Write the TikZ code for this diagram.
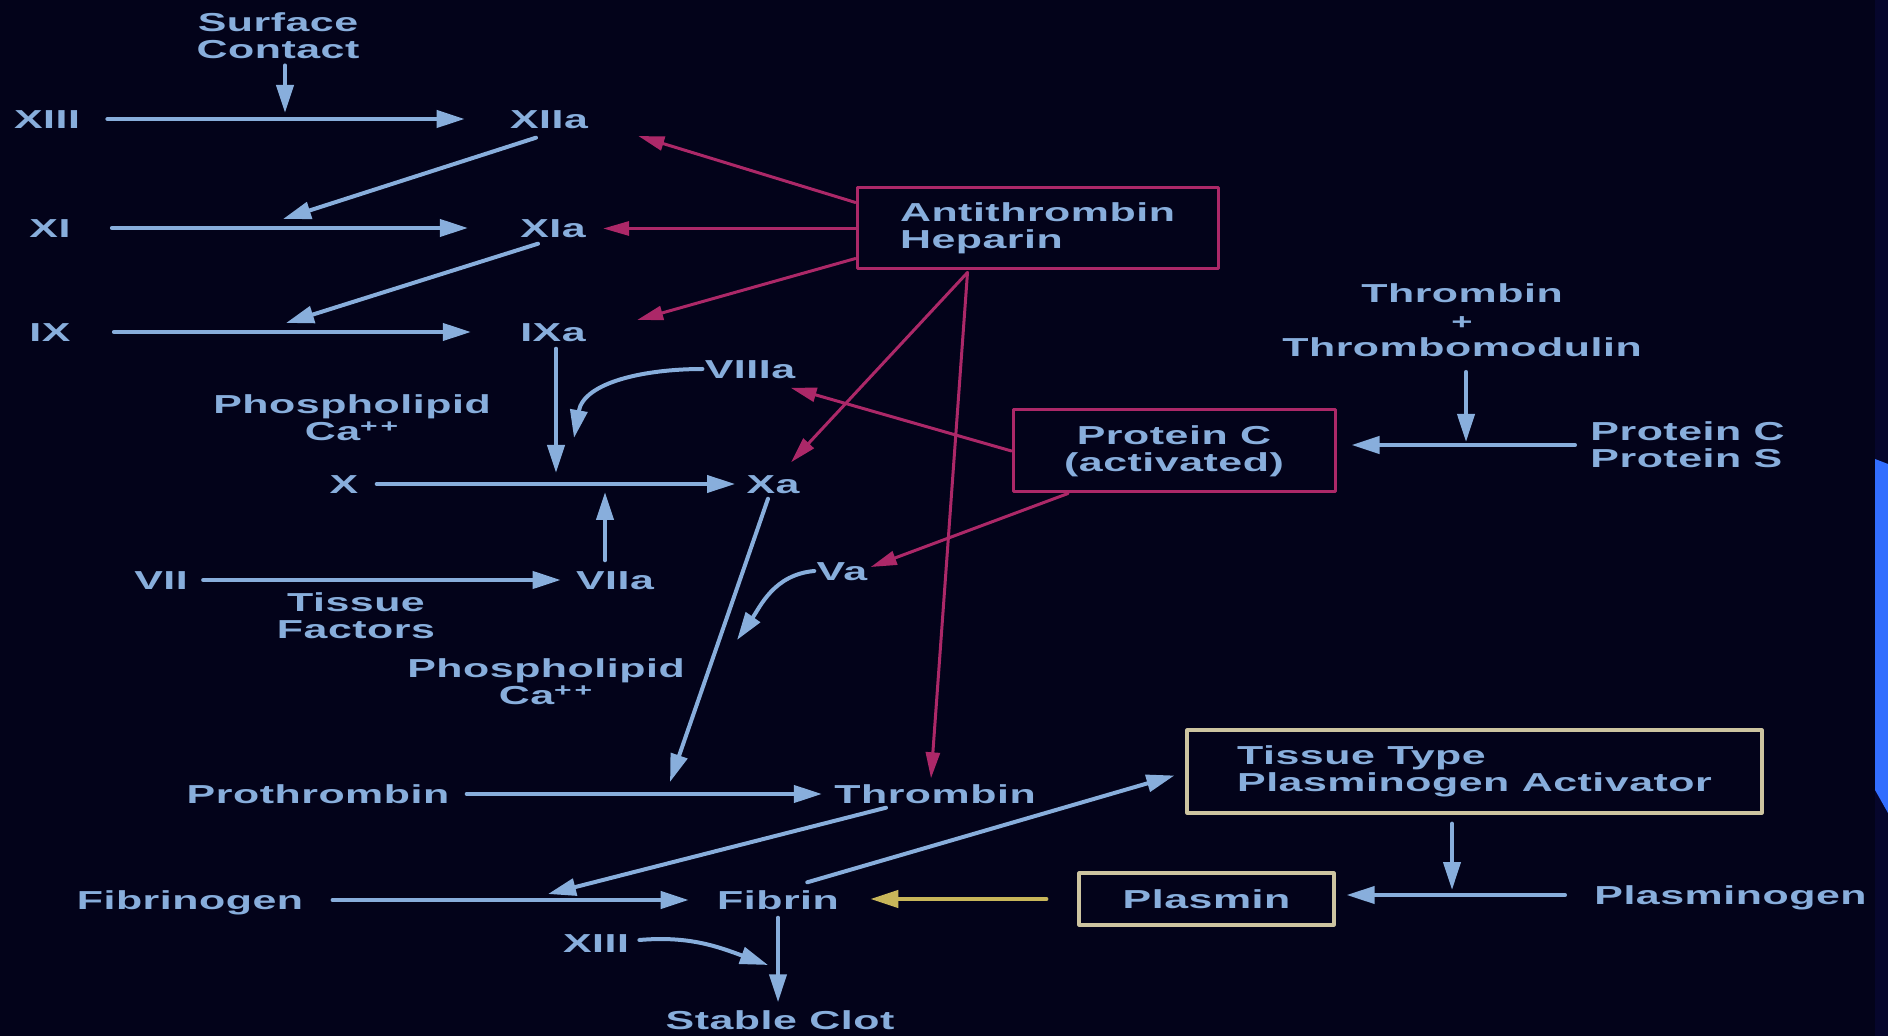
\documentclass[tikz,border=0pt]{standalone}
\usepackage{fontspec}
\newfontfamily\slidefont{Liberation Sans}[FakeStretch=1.65,LetterSpace=2]
\usetikzlibrary{arrows.meta}
\definecolor{bgc}{RGB}{3,3,26}
\definecolor{edgec}{RGB}{6,6,44}
\definecolor{txtc}{RGB}{136,174,220}
\definecolor{magc}{RGB}{172,40,104}
\definecolor{tanc}{RGB}{205,196,160}
\definecolor{ylwc}{RGB}{200,182,90}
\definecolor{stripc}{RGB}{50,110,255}
\begin{document}
\begin{tikzpicture}[x=0.5pt, y=-0.5pt, line join=round, line cap=round, >={Triangle[length=14pt,width=8.5pt]}]
	\tikzset{every node/.style={font=\slidefont\bfseries\fontsize{13}{13.5}\selectfont, text=txtc, inner sep=1pt},
		fac/.style={text height=9.3pt, text depth=0pt},
		two/.style={align=center},
		boxm/.style={draw=magc, line width=1.5pt, align=left},
		boxt/.style={draw=tanc, line width=1.6pt, align=left},
		arr/.style={->, draw=txtc, line width=2pt},
		inh/.style={-{Triangle[length=13pt,width=7pt]}, draw=magc, line width=1.5pt},
		ylw/.style={-{Triangle[length=14pt,width=8.5pt]}, draw=ylwc, line width=2pt}}
	\useasboundingbox (0,0) rectangle (1888,1036);
	\fill[bgc] (0,0) rectangle (1888,1036);
	\fill[edgec] (1875,0) rectangle (1888,1036);
	\fill[stripc] (1875,459) -- (1888,464) -- (1888,813) -- (1875,790) -- cycle;

	\node[two] (surf) at (278,36) {Surface\\Contact};
	\node[fac] (f12) at (47,119) {XIII};
	\node[fac] (f12a) at (549,119) {XIIa};
	\node[fac] (f11) at (50,228) {XI};
	\node[fac] (f11a) at (553,228) {XIa};
	\node[fac] (f9) at (50,332) {IX};
	\node[fac] (f9a) at (553,332) {IXa};
	\node[fac] (f8a) at (750,369) {VIIIa};
	\node[two] (pl1) at (352,418) {Phospholipid\\Ca\textsuperscript{+\,+}};
	\node[fac] (f10) at (344,484) {X};
	\node[fac] (f10a) at (773,484) {Xa};
	\node[fac] (f7) at (161,580) {VII};
	\node[fac] (f7a) at (615,580) {VIIa};
	\node[two] (tf) at (356,616) {Tissue\\Factors};
	\node[fac] (f5a) at (842,571) {Va};
	\node[two] (pl2) at (546,682) {Phospholipid\\Ca\textsuperscript{+\,+}};
	\node[fac] (prot) at (318,794) {Prothrombin};
	\node[fac] (thr) at (935,794) {Thrombin};
	\node[fac] (fibg) at (190,900) {Fibrinogen};
	\node[fac] (fib) at (778,900) {Fibrin};
	\node[fac] (f13b) at (596,943) {XIII};
	\node[fac] (clot) at (780,1020) {Stable Clot};
	\node[boxm, minimum width=180.5pt, minimum height=40.5pt] (at) at (1037.5,228.5) {Antithrombin\\Heparin};
	\node[boxm, align=center, minimum width=161pt, minimum height=41pt] (pc) at (1174,451) {Protein C\\(activated)};
	\node[two] (tm) at (1462,320) {Thrombin\\{\fontsize{11}{13.5}\selectfont +}\\Thrombomodulin};
	\node[anchor=west, align=left] (pcs) at (1588,445) {Protein C\\Protein S};
	\node[boxt, minimum width=287.5pt, minimum height=41.5pt] (tpa) at (1474.5,771.5) {Tissue Type\\Plasminogen Activator};
	\node[boxt, fac, minimum width=127.5pt, minimum height=26pt] (plas) at (1206.5,899) {Plasmin};
	\node[fac, anchor=west] (plg) at (1592,895) {Plasminogen};

	\coordinate (c1) at (285,113);
	\coordinate (d1) at (283,219);
	\coordinate (d2) at (286,323);
	\coordinate (d3) at (556,473);
	\coordinate (d4) at (574,438);
	\coordinate (d5) at (605,492);
	\coordinate (d6) at (737,640);
	\coordinate (d7) at (670,782);
	\coordinate (d8) at (548,894);
	\coordinate (d9) at (768,965);
	\coordinate (d10) at (1452,890);
	\coordinate (d11) at (1466,442);

	\foreach \a/\b/\s/\t in {f12/f12a/12.5/21.5, f11/f11a/19.5/25, f9/f9a/20.5/23.5, f10/f10a/8/4.5, f7/f7a/6.5/6.5, prot/thr/7.5/5, fibg/fib/13.5/13}
		\draw[arr, shorten <=\s pt, shorten >=\t pt] (\a) -- (\b);
	\draw[arr, shorten <=2pt] (surf.south -| c1) -- (c1);
	\draw[arr] ([shift={(-13,7)}]f12a.south) -- (d1);
	\draw[arr] ([shift={(-15,4)}]f11a.south) -- (d2);
	\draw[arr, shorten <=2.5pt] (f9a.south -| d3) -- (d3);
	\draw[arr] (f8a.west) to[out=180, in=80] (d4);
	\draw[arr, shorten <=4pt] (d5 |- f7a.north) -- (d5);
	\draw[arr] (f5a.west) to[out=185, in=55] (d6);
	\draw[arr] ([shift={(-5,3)}]f10a.south) -- (d7);
	\draw[arr] ([shift={(-49,2)}]thr.south) -- (d8);
	\draw[arr] ([shift={(-34,-6)}]fib.north east) -- ([shift={(-11,4)}]tpa.west);
	\draw[arr, shorten <=3pt, shorten >=3pt] (fib.south) -- (fib.south |- clot.north);
	\draw[arr] ([shift={(8,-3)}]f13b.east) to[out=5, in=160] (d9);
	\draw[arr, shorten <=4.5pt] (tpa.south -| d10) -- (d10);
	\draw[arr, shorten <=6.5pt] (tm.south -| d11) -- (d11);
	\draw[arr, shorten <=13.5pt, shorten >=5.5pt] (plg.west) -- (plg.west -| plas.east);
	\draw[arr, shorten <=6.5pt, shorten >=7.5pt] (pcs.west) -- (pcs.west -| pc.east);
	\draw[ylw, shorten <=15.5pt, shorten >=14.5pt] (plas.west) -- (plas.west -| fib.east);

	\draw[inh] ([shift={(0,-26)}]at.west) -- ([shift={(48,17)}]f12a.east);
	\draw[inh, shorten >=7.5pt] (at.west) -- (at.west -| f11a.east);
	\draw[inh] ([shift={(0,30)}]at.west) -- ([shift={(49,-12)}]f9a.east);
	\draw[inh] ([shift={(-70,2)}]at.south) -- ([shift={(18,-10)}]f10a.north);
	\draw[inh] ([shift={(-70,2)}]at.south) -- ([shift={(-4,-4)}]thr.north);
	\draw[inh] (pc.west) -- ([shift={(-7,7)}]f8a.south east);
	\draw[inh] ([shift={(-106,0)}]pc.south) -- ([shift={(1,-4)}]f5a.east);
\end{tikzpicture}
\end{document}
